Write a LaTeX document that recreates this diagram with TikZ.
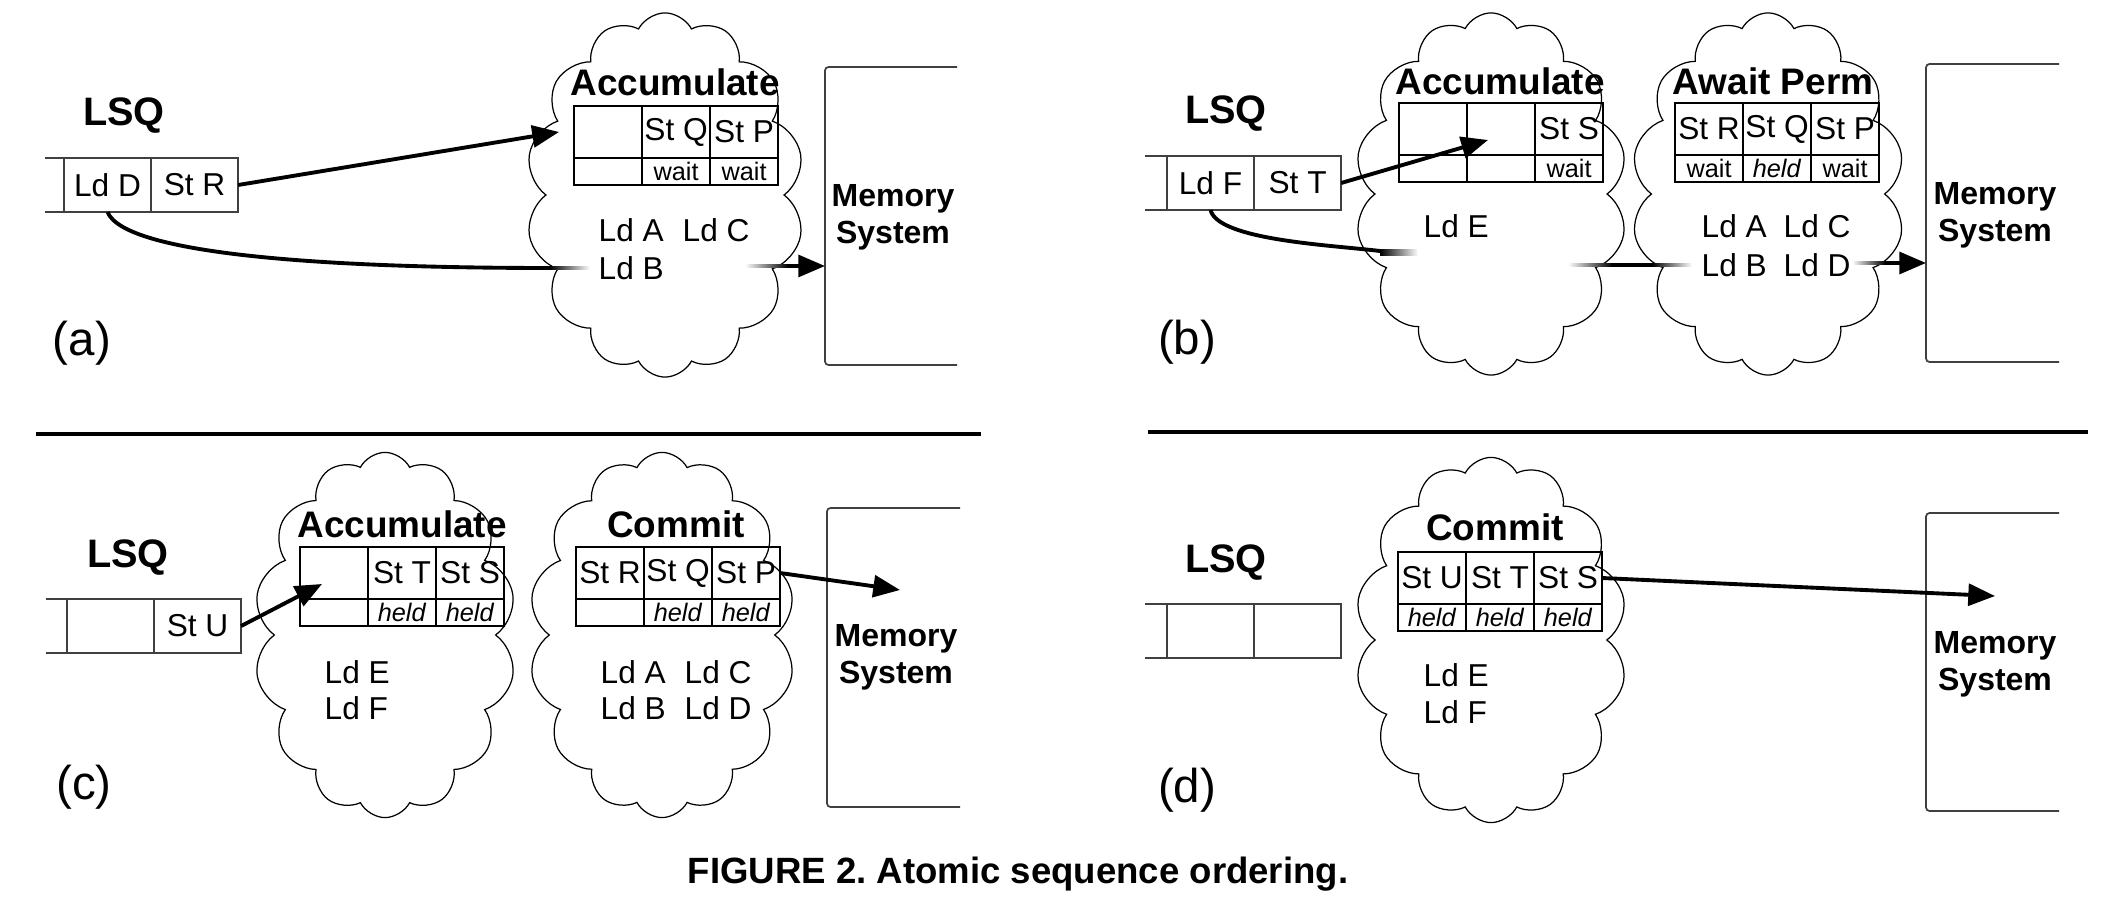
\documentclass[tikz,border=0pt]{standalone}
\usepackage{fontspec}
\setmainfont{Liberation Sans}
\usepackage{tikz}
\usetikzlibrary{shapes.symbols,positioning,arrows.meta}
\frenchspacing

\begin{document}
\begin{tikzpicture}[
        x=0.01cm, y=-0.01cm,
        >={Triangle[length=7.6pt,width=6.2pt]},
        puff/.style={cloud, draw, cloud puffs=14, cloud puff arc=125, cloud ignores aspect, line width=0.35pt, inner sep=0pt},
        stage/.style={font=\fontsize{10.5}{12}\selectfont\bfseries},
        cell/.style={draw, line width=0.45pt, outer sep=0pt, inner sep=0pt, minimum width=0.68cm, minimum height=0.52cm, font=\fontsize{9}{10}\selectfont},
        stat/.style={cell, minimum height=0.27cm, font=\fontsize{7.2}{8}\selectfont},
        slot/.style={draw=black!75, line width=0.45pt, outer sep=0pt, inner sep=0pt, minimum width=0.87cm, minimum height=0.54cm, font=\fontsize{9}{10}\selectfont},
        stub/.style={draw=black!75, line width=0.45pt},
        lsq/.style={font=\fontsize{11.3}{13}\selectfont\bfseries},
        ld/.style={anchor=west, inner sep=0pt, font=\fontsize{9}{10}\selectfont},
        mem/.style={align=center, font=\fontsize{9.1}{10.5}\selectfont\bfseries},
        membox/.style={draw=black!75, line width=0.5pt, rounded corners=1pt},
        tag/.style={font=\fontsize{13.5}{15}\selectfont},
        arr/.style={->, line width=1.1pt},
        wire/.style={line width=1.1pt},
        fadein/.style={left color=white, right color=black},
        fadeout/.style={left color=black, right color=white}
        ]
        \useasboundingbox (0,0) rectangle (2113,919);

        % (a)
        \node[lsq] (lsqa) at (124,116) {LSQ};
        \node[slot, anchor=north west] (qa1) at (64,158) {Ld D};
        \node[slot, right=0pt of qa1] (qa2) {St R};
        \draw[stub] (qa1.north west) -- ++(-19,0) (qa1.south west) -- ++(-19,0);

        \node[puff, minimum width=2.78cm, minimum height=3.64cm] (clda) at (665,195) {};
        \node[stage] (acca) at (675,82) {Accumulate};
        \node[cell, anchor=north west] (ta1) at (574,106) {};
        \node[cell, right=0pt of ta1] (ta2) {St Q};
        \node[cell, right=0pt of ta2] (ta3) {St P};
        \node[stat, below=0pt of ta1] (sa1) {};
        \node[stat, below=0pt of ta2] (sa2) {wait};
        \node[stat, below=0pt of ta3] (sa3) {wait};
        \node[ld] (lda) at (598,230) {Ld A};
        \node[ld] (ldc) at (682,230) {Ld C};
        \node[ld] (ldb) at (598,268) {Ld B};

        \draw[membox] (957,67) -- (825,67) -- (825,365) -- (957,365);
        \node[mem] (mema) at (893,217) {Memory\\System};
        \node[tag] (taga) at (82,343) {(a)};

        \coordinate (ina) at (825,266);
        \coordinate (fa1) at (550,268);
        \coordinate (fa2) at (590,268);
        \coordinate (fa3) at (745,266);
        \coordinate (fa4) at (788,266);
        \draw[arr] (qa2.east) -- ([xshift=-0.15cm]ta1.west);
        \draw[wire] (qa1.south) .. controls (125,255) and (330,268) .. (fa1);
        \shade[fadeout] ([yshift=0.55pt]fa1) rectangle ([yshift=-0.55pt]fa2);
        \shade[fadein] ([yshift=0.55pt]fa3) rectangle ([yshift=-0.55pt]fa4);
        \draw[arr] (fa4) -- (ina);

        % (b)
        \node[lsq] (lsqb) at (1226,114) {LSQ};
        \node[slot, anchor=north west] (qb1) at (1167,156) {Ld F};
        \node[slot, right=0pt of qb1] (qb2) {St T};
        \draw[stub] (qb1.north west) -- ++(-22,0) (qb1.south west) -- ++(-22,0);

        \node[puff, minimum width=2.72cm, minimum height=3.62cm] (cldb1) at (1491,194) {};
        \node[puff, minimum width=2.73cm, minimum height=3.62cm] (cldb2) at (1768,194) {};
        \node[stage] (accb) at (1500,81) {Accumulate};
        \node[cell, anchor=north west] (tb1) at (1399,103) {};
        \node[cell, right=0pt of tb1] (tb2) {};
        \node[cell, right=0pt of tb2] (tb3) {St S};
        \node[stat, below=0pt of tb1] (sb1) {};
        \node[stat, below=0pt of tb2] (sb2) {};
        \node[stat, below=0pt of tb3] (sb3) {wait};
        \node[ld] (lde) at (1423,226) {Ld E};

        \node[stage] (awb) at (1773,81) {Await Perm};
        \node[cell, anchor=north west] (pb1) at (1675,103) {St R};
        \node[cell, right=0pt of pb1] (pb2) {St Q};
        \node[cell, right=0pt of pb2] (pb3) {St P};
        \node[stat, below=0pt of pb1] (wb1) {wait};
        \node[stat, below=0pt of pb2] (wb2) {\textit{held}};
        \node[stat, below=0pt of pb3] (wb3) {wait};
        \node[ld] (ldba) at (1701,226) {Ld A};
        \node[ld] (ldbc) at (1783,226) {Ld C};
        \node[ld] (ldbb) at (1701,265) {Ld B};
        \node[ld] (ldbd) at (1783,265) {Ld D};

        \draw[membox] (2059,64) -- (1926,64) -- (1926,362) -- (2059,362);
        \node[mem] (memb) at (1995,215) {Memory\\System};
        \node[tag] (tagb) at (1187,342) {(b)};

        \coordinate (tipb) at (1488,140);
        \coordinate (inb) at (1926,263);
        \coordinate (fb1) at (1380,251);
        \coordinate (fb2) at (1418,254);
        \coordinate (fb3) at (1568,265);
        \coordinate (fb4) at (1612,265);
        \coordinate (fb5) at (1652,265);
        \coordinate (fb6) at (1692,265);
        \coordinate (fb7) at (1852,263);
        \coordinate (fb8) at (1885,263);
        \draw[arr] (qb2.east) -- (tipb);
        \draw[wire] (qb1.south) .. controls (1218,240) and (1330,245) .. (fb1);
        \shade[fadeout] ([yshift=0.55pt]fb1) rectangle ([yshift=-0.55pt]fb2);
        \shade[fadein] ([yshift=0.55pt]fb3) rectangle ([yshift=-0.55pt]fb4);
        \draw[wire] (fb4) -- (fb5);
        \shade[fadeout] ([yshift=0.55pt]fb5) rectangle ([yshift=-0.55pt]fb6);
        \shade[fadein] ([yshift=0.55pt]fb7) rectangle ([yshift=-0.55pt]fb8);
        \draw[arr] (fb8) -- (inb);

        % rules between the rows
        \draw[line width=1.4pt] (36,434) -- (981,434);
        \draw[line width=1.4pt] (1148,432) -- (2088,432);

        % (c)
        \node[lsq] (lsqc) at (128,558) {LSQ};
        \node[slot, anchor=north west] (qc1) at (67,599) {};
        \node[slot, right=0pt of qc1] (qc2) {St U};
        \draw[stub] (qc1.north west) -- ++(-21,0) (qc1.south west) -- ++(-21,0);

        \node[puff, minimum width=2.62cm, minimum height=3.65cm] (cldc1) at (385,635) {};
        \node[puff, minimum width=2.66cm, minimum height=3.65cm] (cldc2) at (662,635) {};
        \node[stage] (accc) at (402,524) {Accumulate};
        \node[cell, anchor=north west] (tc1) at (300,547) {};
        \node[cell, right=0pt of tc1] (tc2) {St T};
        \node[cell, right=0pt of tc2] (tc3) {St S};
        \node[stat, below=0pt of tc1] (sc1) {};
        \node[stat, below=0pt of tc2] (sc2) {\textit{held}};
        \node[stat, below=0pt of tc3] (sc3) {\textit{held}};
        \node[ld] (ldce) at (324,672) {Ld E};
        \node[ld] (ldcf) at (324,708) {Ld F};

        \node[stage] (comc) at (676,524) {Commit};
        \node[cell, anchor=north west] (mc1) at (576,547) {St R};
        \node[cell, right=0pt of mc1] (mc2) {St Q};
        \node[cell, right=0pt of mc2] (mc3) {St P};
        \node[stat, below=0pt of mc1] (hc1) {};
        \node[stat, below=0pt of mc2] (hc2) {\textit{held}};
        \node[stat, below=0pt of mc3] (hc3) {\textit{held}};
        \node[ld] (ldca) at (600,672) {Ld A};
        \node[ld] (ldcc) at (684,672) {Ld C};
        \node[ld] (ldcb) at (600,708) {Ld B};
        \node[ld] (ldcd) at (684,708) {Ld D};

        \draw[membox] (960,508) -- (827,508) -- (827,807) -- (960,807);
        \node[mem] (memc) at (896,657) {Memory\\System};
        \node[tag] (tagc) at (84,787) {(c)};

        \coordinate (tipc) at (322,584);
        \coordinate (outc) at (900,590);
        \draw[arr] (qc2.east) -- (tipc);
        \draw[arr] (mc3.east) -- (outc);

        % (d)
        \node[lsq] (lsqd) at (1226,563) {LSQ};
        \node[slot, anchor=north west] (qd1) at (1167,604) {};
        \node[slot, right=0pt of qd1] (qd2) {};
        \draw[stub] (qd1.north west) -- ++(-22,0) (qd1.south west) -- ++(-22,0);

        \node[puff, minimum width=2.72cm, minimum height=3.65cm] (cldd) at (1491,640) {};
        \node[stage] (comd) at (1495,527) {Commit};
        \node[cell, anchor=north west] (dc1) at (1398,552) {St U};
        \node[cell, right=0pt of dc1] (dc2) {St T};
        \node[cell, right=0pt of dc2] (dc3) {St S};
        \node[stat, below=0pt of dc1] (hd1) {\textit{held}};
        \node[stat, below=0pt of dc2] (hd2) {\textit{held}};
        \node[stat, below=0pt of dc3] (hd3) {\textit{held}};
        \node[ld] (ldde) at (1423,675) {Ld E};
        \node[ld] (lddf) at (1423,712) {Ld F};

        \draw[membox] (2059,513) -- (1926,513) -- (1926,811) -- (2059,811);
        \node[mem] (memd) at (1995,664) {Memory\\System};
        \node[tag] (tagd) at (1187,790) {(d)};

        \coordinate (outd) at (1995,596);
        \draw[arr] (dc3.east) -- (outd);

        \node[font=\fontsize{10.4}{12}\selectfont\bfseries] (cap) at (1018,874) {FIGURE 2. Atomic sequence ordering.};
\end{tikzpicture}
\end{document}
